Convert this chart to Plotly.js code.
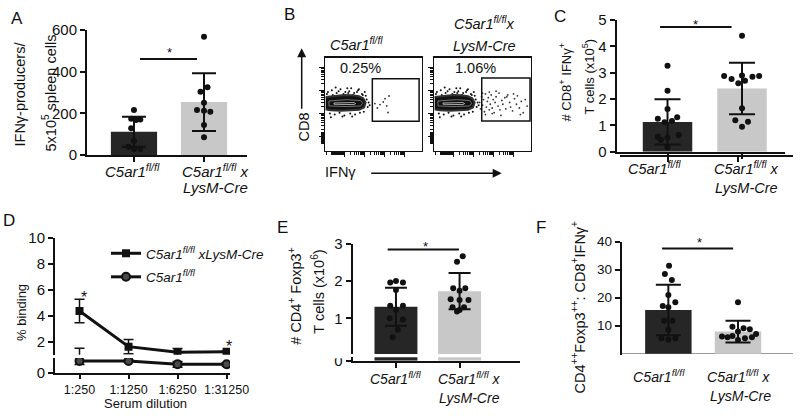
<!DOCTYPE html>
<html><head><meta charset="utf-8">
<script src="https://cdn.plot.ly/plotly-3.0.1.min.js"></script>
<style>html,body{margin:0;padding:0;background:#fff}#chart{width:800px;height:420px}</style>
</head><body><div id="chart"></div>
<script>
// ================= DATA =================
const groupLabels = ['<i>C5ar1<sup>fl/fl</sup></i>', '<i>C5ar1<sup>fl/fl</sup> x</i>', '<i>LysM-Cre</i>'];
// Panel A: IFNg producers / 5x10^5 spleen cells
const aMean = [112, 254];
const aSD = [72, 139];
const aCtrl = [216, 174, 168, 171, 128, 69, 40, 29, 29];
const aCtrlJit = [0, -0.04, 0.03, 0.09, -0.04, 0, -0.08, 0, 0.09];
const aKO = [568, 304, 325, 251, 216, 213, 208, 144, 85];
const aKOJit = [0, -0.05, 0.05, 0, -0.1, 0, 0.09, 0, 0];
const aSig = [0.086, 0.9, 461];
const aStarX = 0.51;
// Panel C: # CD8+ IFNg+ T cells (x10^5)
const cMean = [1.13, 2.40];
const cSD = [0.86, 0.98];
const cCtrl = [3.26, 2.31, 1.62, 1.25, 1.31, 1.12, 1.17, 0.57, 0.44, 0.53, 0.63, 0.17];
const cCtrlJit = [0, 0, 0, -0.13, 0.13, -0.04, 0.06, -0.13, -0.09, 0, 0.15, 0];
const cKO = [4.40, 2.87, 2.76, 2.89, 2.85, 2.87, 2.60, 2.69, 1.65, 1.19, 1.14, 0.95];
const cKOJit = [0, -0.24, -0.14, 0, 0.14, 0.23, -0.05, 0.04, 0, -0.09, 0.08, 0];
const cSig = [-0.1, 0.86, 4.73];
const cStarX = 0.38;
// Panel D: % binding vs serum dilution
const dCats = ['1:250', '1:1250', '1:6250', '1:31250'];
const dKO = [4.36, 1.62, 1.18, 1.23];
const dKOErr = [0.91, 0.55, 0.3, 0.05];
const dWT = [0.8, 0.8, 0.57, 0.57];
const dWTErrPlus = [0.7, 0.05, 0.2, 0.1];
const dWTErrMinus = [0.25, 0.05, 0.2, 0.1];
const dStars = [[0.1, 5.72], [3.04, 1.95]];
// Panel E: # CD4+ Foxp3+ T cells (x10^6)
const eMean = [1.31, 1.73];
const eSD = [0.51, 0.49];
const eCtrl = [1.96, 2.0, 1.96, 1.76, 1.34, 1.34, 1.22, 1.0, 0.97, 0.69, 0.49];
const eCtrlJit = [-0.09, 0, 0.11, 0, -0.09, 0.11, 0, -0.1, 0.11, 0.03, -0.05];
const eKO = [2.67, 2.52, 1.81, 1.74, 1.81, 1.51, 1.49, 1.49, 1.30, 1.30, 1.22, 1.18];
const eKOJit = [0.05, -0.04, -0.1, 0, 0.09, -0.14, 0, 0.14, -0.11, 0.07, 0, -0.04];
const eSig = [-0.13, 0.99, 2.85];
const eStarX = 0.46;
// Panel F: ratio CD4+Foxp3+ : CD8+IFNg+
const fMean = [15.6, 7.9];
const fSD = [9.0, 3.9];
const fCtrl = [31.4, 28.5, 26.3, 21.0, 17.0, 18.4, 16.6, 11.8, 11.8, 8.5, 5.5, 5.1, 5.5];
const fCtrlJit = [0.01, -0.05, 0.05, 0, -0.08, 0.1, 0, -0.06, 0.06, 0, -0.1, 0, 0.1];
const fKO = [18.4, 9.6, 9.1, 8.7, 7.9, 6.1, 5.9, 6.3, 5.5, 5.9, 4.9, 7.0];
const fKOJit = [0, -0.08, 0.08, 0.17, 0, -0.23, -0.15, -0.08, 0.1, 0.2, 0, 0.26];
const fSig = [-0.09, 0.93, 37.6];
const fStarX = 0.45;
// Panel B: flow cytometry (arbitrary display units 0-100)
const bPct = ['0.25%', '1.06%'];
const bCoreX = [0.7, 9.3, 19.6, 28.2, 35.1, 39.5, 41.9, 40.2, 35.1, 26.5, 16.2, 5.8, 0.7];
const bCoreY = [57.7, 58.8, 59.9, 59.5, 58.5, 56.3, 51.8, 46.5, 44.0, 43.7, 43.0, 43.7, 44.4];
const bRing1X = [4.1, 23, 36.8, 38.8, 36.8, 23, 4.1, 4.1];
const bRing1Y = [53.5, 54.9, 53.9, 51.1, 48.2, 47.5, 48.2, 53.5];
const bRing2X = [9.3, 29.9, 31.6, 29.9, 9.3, 9.3];
const bRing2Y = [51.4, 51.8, 50.7, 49.6, 50.0, 51.4];
const bFuzzX = [3, 7, 12, 16, 21, 25, 30, 34, 38, 42, 5, 10, 15, 20, 26, 31, 36, 40, 44, 2, 8, 14, 19, 24, 29, 33, 39, 43, 18, 27, 45, 46, 11, 23, 35, 6, 28, 41];
const bFuzzY = [63, 65, 62, 66, 63, 64, 62, 65, 61, 59, 40, 39, 41, 38, 40, 39, 41, 42, 47, 61, 60, 64, 61, 62, 60, 63, 60, 55, 37, 67, 52, 49, 68, 67, 66, 36, 37, 63];
const bGateCtrlX = [51.5, 56.7, 60.1, 61.9, 63.6, 66, 65, 54];
const bGateCtrlY = [50.7, 49.6, 52.4, 56, 48.2, 58.8, 41.2, 46];
const bGateKOX = [47,48,49,50,51,52,53,54,55,56,57,58,59,60,61,62,63,64,66,67,68,70,71,73,74,76,78,79,81,83,85,86,88,90,92,94,96,50,53,57,60,64,69,75,82,89];
const bGateKOY = [52,45,58,49,55,42,61,47,53,57,44,50,60,46,55,41,52,58,48,62,44,54,50,57,45,60,52,47,43,56,50,59,46,53,41,55,48,62,39,63,40,64,38,58,61,39];
const bGateCtrl = [48.8, 97, 31.9, 77.3];
const bGateKO = [49.2, 99, 32, 78];
const flowXDecades = [20.5, 41, 61.5, 82];
const flowYDecades = [15.5, 40, 64.5, 89];

// ================= LAYOUT HELPERS =================
const W = 800, H = 420;
const PX = p => p / W;
const PY = p => 1 - p / H;
const FONT = 'Liberation Sans, Arial, sans-serif';
const INK = '#111';
const DARK = '#262626', LIGHT = '#c8c8c8';

function axisBase(extra) {
  return Object.assign({
    showline: true, linecolor: INK, linewidth: 2,
    ticks: 'outside', ticklen: 5, tickwidth: 2, tickcolor: INK,
    showgrid: false, zeroline: false,
    tickfont: {family: FONT, size: 15, color: INK},
    fixedrange: true
  }, extra);
}
function logMinor(decades, w) {
  const out = [];
  for (let i = 0; i < decades.length - 1; i++)
    for (let k = 2; k <= 9; k++) out.push(decades[i] + Math.log10(k) * w);
  return out;
}
function block(a, b, step) { const o = []; for (let v = a; v <= b; v += step) o.push(v); return o; }

const traces = [];
const shapes = [];
const annotations = [];

function barPanel(xa, ya, mean, sd, ctrl, ctrlJit, ko, koJit, width, capw) {
  traces.push({type: 'bar', x: [0, 1], y: mean, xaxis: xa, yaxis: ya, width: width,
    marker: {color: [DARK, LIGHT], line: {width: 0}}, showlegend: false, hoverinfo: 'skip',
    error_y: {type: 'data', array: sd, visible: true, color: INK, thickness: 2, width: capw}});
  traces.push({type: 'scatter', mode: 'markers', x: ctrlJit.map(j => 0 + j), y: ctrl, xaxis: xa, yaxis: ya,
    marker: {size: 6, color: INK}, showlegend: false, hoverinfo: 'skip', cliponaxis: false});
  traces.push({type: 'scatter', mode: 'markers', x: koJit.map(j => 1 + j), y: ko, xaxis: xa, yaxis: ya,
    marker: {size: 6, color: INK}, showlegend: false, hoverinfo: 'skip', cliponaxis: false});
}
// significance bar + star placed a few pixels above it
function sigLine(xa, ya, sig, starX, lift) {
  shapes.push({type: 'line', xref: xa, yref: ya, x0: sig[0], x1: sig[1], y0: sig[2], y1: sig[2],
    line: {color: INK, width: 2}});
  annotations.push({xref: xa, yref: ya, x: starX, y: sig[2], text: '*', showarrow: false,
    yanchor: 'middle', yshift: lift - 4, font: {family: FONT, size: 13, color: INK}});
}
function catLabels(xa, pyLine1, pyLine2, shifts, size) {
  annotations.push({xref: xa, yref: 'paper', x: 0, y: PY(pyLine1), text: groupLabels[0], showarrow: false,
    xshift: shifts[0], yanchor: 'middle', font: {family: FONT, size: size, color: INK}});
  annotations.push({xref: xa, yref: 'paper', x: 1, y: PY(pyLine1), text: groupLabels[1], showarrow: false,
    xshift: shifts[1], yanchor: 'middle', font: {family: FONT, size: size, color: INK}});
  annotations.push({xref: xa, yref: 'paper', x: 1, y: PY(pyLine2), text: groupLabels[2], showarrow: false,
    xshift: shifts[2], yanchor: 'middle', font: {family: FONT, size: size, color: INK}});
}
function vText(px, py, text, size) {
  annotations.push({xref: 'paper', yref: 'paper', x: PX(px), y: PY(py), text: text, textangle: -90,
    showarrow: false, xanchor: 'center', yanchor: 'middle', font: {family: FONT, size: size, color: INK}});
}
function hText(px, py, text, size) {
  annotations.push({xref: 'paper', yref: 'paper', x: PX(px), y: PY(py), text: text,
    showarrow: false, xanchor: 'center', yanchor: 'middle',
    font: {family: FONT, size: size, color: INK}});
}

// ---------- Panel A ----------
barPanel('x', 'y', aMean, aSD, aCtrl, aCtrlJit, aKO, aKOJit, 0.66, 12);
sigLine('x', 'y', aSig, aStarX, 10);
catLabels('x', 170.7, 188, [-1, 11, 11], 15);
vText(20, 94.5, 'IFNγ-producers/', 14.5);
vText(49.5, 93, '5x10<sup>5</sup> spleen cells', 14.5);

// ---------- Panel C ----------
barPanel('x4', 'y4', cMean, cSD, cCtrl, cCtrlJit, cKO, cKOJit, 0.664, 13);
sigLine('x4', 'y4', cSig, cStarX, 6.5);
catLabels('x4', 168.3, 187.5, [-13, 4, 4], 14.5);
vText(566, 82.5, '# CD8<sup>+</sup> IFNγ<sup>+</sup>', 13);
vText(588, 76.5, 'T cells (x10<sup>5</sup>)', 13);

// ---------- Panel E ----------
barPanel('x6', 'y7', eMean, eSD, eCtrl, eCtrlJit, eKO, eKOJit, 0.675, 11);
traces.push({type: 'bar', x: [0, 1], y: eMean, xaxis: 'x6', yaxis: 'y8', width: 0.675,
  marker: {color: [DARK, LIGHT]}, showlegend: false, hoverinfo: 'skip'});
sigLine('x6', 'y7', eSig, eStarX, 7);
catLabels('x6', 378.3, 397.5, [0, 10, 10], 14);
vText(295, 296.7, '# CD4<sup>+</sup> Foxp3<sup>+</sup>', 14.5);
vText(318, 291.7, 'T cells (x10<sup>6</sup>)', 14.5);

// ---------- Panel F ----------
barPanel('x7', 'y9', fMean, fSD, fCtrl, fCtrlJit, fKO, fKOJit, 0.667, 12.5);
sigLine('x7', 'y9', fSig, fStarX, 10);
catLabels('x7', 375.8, 395.8, [-9, 1, 3], 14.2);
vText(578, 307.5, 'CD4<sup>+</sup><sup>+</sup>Foxp3<sup>+</sup><sup>+</sup>: CD8<sup>+</sup>IFNγ<sup>+</sup>', 14.5);

// ---------- Panel D ----------
traces.push({type: 'scatter', mode: 'lines+markers', x: dCats, y: dKO, xaxis: 'x5', yaxis: 'y5',
  name: '<i>C5ar1<sup>fl/fl</sup> xLysM-Cre</i>', legendgroup: 'ko', showlegend: true,
  line: {color: INK, width: 3}, marker: {symbol: 'square', size: 8, color: INK},
  error_y: {type: 'data', array: dKOErr, color: INK, thickness: 1.5, width: 5}, hoverinfo: 'skip'});
traces.push({type: 'scatter', mode: 'lines+markers', x: dCats, y: dWT, xaxis: 'x5', yaxis: 'y6',
  name: '<i>C5ar1<sup>fl/fl</sup></i>', legendgroup: 'wt', showlegend: true,
  line: {color: INK, width: 3}, marker: {symbol: 'circle', size: 8, color: '#4a4a4a', line: {color: INK, width: 2}},
  error_y: {type: 'data', array: dWTErrPlus, arrayminus: dWTErrMinus, color: INK, thickness: 1.5, width: 5}, hoverinfo: 'skip'});
traces.push({type: 'scatter', mode: 'markers', x: dCats, y: dWT, xaxis: 'x5', yaxis: 'y5', showlegend: false,
  marker: {size: 0.1, color: INK},
  error_y: {type: 'data', array: dWTErrPlus, arrayminus: dWTErrMinus, color: INK, thickness: 1.5, width: 5}, hoverinfo: 'skip'});
dStars.forEach(s => annotations.push({xref: 'x5', yref: 'y5', x: s[0], y: s[1], text: '*', showarrow: false,
  yanchor: 'middle', yshift: -4, font: {family: FONT, size: 16, color: INK}}));
vText(21, 313, '% binding', 13);
hText(145, 403, 'Serum dilution', 13);

// ---------- Panel B ----------
[['x2', 'y2', bGateCtrlX, bGateCtrlY, bGateCtrl], ['x3', 'y3', bGateKOX, bGateKOY, bGateKO]].forEach(p => {
  const [xa, ya, gx, gy, gate] = p;
  traces.push({type: 'scatter', mode: 'markers', x: bFuzzX, y: bFuzzY, xaxis: xa, yaxis: ya, showlegend: false,
    marker: {size: 2, color: INK}, hoverinfo: 'skip'});
  traces.push({type: 'scatter', mode: 'lines', x: bCoreX, y: bCoreY, xaxis: xa, yaxis: ya, fill: 'toself',
    fillcolor: INK, line: {color: '#333', width: 2}, showlegend: false, hoverinfo: 'skip'});
  traces.push({type: 'scatter', mode: 'lines', x: bRing1X, y: bRing1Y, xaxis: xa, yaxis: ya,
    line: {color: '#8a8a8a', width: 0.8}, showlegend: false, hoverinfo: 'skip'});
  traces.push({type: 'scatter', mode: 'lines', x: bRing2X, y: bRing2Y, xaxis: xa, yaxis: ya,
    line: {color: '#cfcfcf', width: 0.8}, showlegend: false, hoverinfo: 'skip'});
  traces.push({type: 'scatter', mode: 'markers', x: gx, y: gy, xaxis: xa, yaxis: ya, showlegend: false,
    marker: {size: 1.8, color: '#333'}, hoverinfo: 'skip'});
  shapes.push({type: 'rect', xref: xa, yref: ya, x0: gate[0], x1: gate[1], y0: gate[2], y1: gate[3],
    line: {color: INK, width: 1.5}});
});
hText(360.7, 68.3, bPct[0], 14.5);
hText(475.7, 68.3, bPct[1], 14.5);
hText(356, 44, '<i>C5ar1<sup>fl/fl</sup></i>', 14.5);
hText(484, 22.5, '<i>C5ar1<sup>fl/fl</sup>x</i>', 14.5);
hText(484, 45.5, '<i>LysM-Cre</i>', 14.5);
vText(303, 127.5, 'CD8', 14.5);
hText(340, 172, 'IFNγ', 14.5);
annotations.push({xref: 'paper', yref: 'paper', x: PX(301.7), y: PY(48.3), ax: 0, ay: 62, text: '',
  showarrow: true, arrowhead: 2, arrowsize: 1.2, arrowwidth: 1.5, arrowcolor: INK, standoff: 0, startstandoff: 0});
annotations.push({xref: 'paper', yref: 'paper', x: PX(501.7), y: PY(173.3), ax: -132, ay: 0, text: '',
  showarrow: true, arrowhead: 2, arrowsize: 1.2, arrowwidth: 1.5, arrowcolor: INK, standoff: 0, startstandoff: 0});

// panel letters
[['A', 17, 19], ['B', 289, 15], ['C', 560, 17], ['D', 9, 220], ['E', 282, 227], ['F', 541, 227]].forEach(l =>
  annotations.push({xref: 'paper', yref: 'paper', x: PX(l[1]), y: PY(l[2]), text: l[0], showarrow: false,
    xanchor: 'center', yanchor: 'middle', font: {family: FONT, size: 17, color: INK}}));

// partial "0" masks for broken axes (E, F)
shapes.push({type: 'rect', xref: 'paper', yref: 'paper', x0: PX(334), x1: PX(350.5), y0: PY(358.3), y1: PY(352),
  fillcolor: '#fff', line: {width: 0}, layer: 'above'});
shapes.push({type: 'rect', xref: 'paper', yref: 'paper', x0: PX(598), x1: PX(619.5), y0: PY(357.8), y1: PY(351.5),
  fillcolor: '#fff', line: {width: 0}, layer: 'above'});

const flowX = {
  showline: true, mirror: true, linecolor: INK, linewidth: 1.3, showgrid: false, zeroline: false,
  ticks: 'outside', ticklen: 5, tickwidth: 1, tickcolor: INK, tickvals: flowXDecades, showticklabels: false,
  minor: {ticks: 'outside', ticklen: 3, tickwidth: 1, tickcolor: INK, tickmode: 'array',
    tickvals: [2].concat(block(7, 19.5, 0.7), logMinor(flowXDecades, 20.5))},
  range: [0, 100], fixedrange: true
};
const flowY = {
  showline: true, mirror: true, linecolor: INK, linewidth: 1.3, showgrid: false, zeroline: false,
  ticks: 'outside', ticklen: 5, tickwidth: 1, tickcolor: INK, tickvals: flowYDecades, showticklabels: false,
  minor: {ticks: 'outside', ticklen: 3, tickwidth: 1, tickcolor: INK, tickmode: 'array',
    tickvals: block(8, 20.5, 0.7).concat(logMinor(flowYDecades, 24.5))},
  range: [0, 100], fixedrange: true
};

const layout = {
  width: W, height: H, margin: {l: 0, r: 0, t: 0, b: 0},
  paper_bgcolor: '#fff', plot_bgcolor: 'rgba(0,0,0,0)',
  font: {family: FONT, color: INK},
  showlegend: true,
  legend: {x: PX(106), y: PY(238), xanchor: 'left', yanchor: 'top', bgcolor: 'rgba(0,0,0,0)',
    font: {family: FONT, size: 13.5, color: INK}, itemwidth: 30, tracegroupgap: 3, traceorder: 'grouped'},
  // A
  xaxis: axisBase({domain: [PX(87), PX(247)], range: [-0.671, 1.614], tickvals: [0, 1], showticklabels: false, anchor: 'y'}),
  yaxis: axisBase({domain: [PY(155), PY(30)], range: [0, 600], tickvals: [0, 200, 400, 600], anchor: 'x'}),
  // B
  xaxis2: Object.assign({domain: [PX(325), PX(422)], anchor: 'y2'}, flowX),
  yaxis2: Object.assign({domain: [PY(151), PY(57.5)], anchor: 'x2'}, flowY),
  xaxis3: Object.assign({domain: [PX(434), PX(531)], anchor: 'y3'}, flowX),
  yaxis3: Object.assign({domain: [PY(151), PY(57.5)], anchor: 'x3'}, flowY),
  // C
  xaxis4: axisBase({domain: [PX(616.7), PX(785)], range: [-0.682, 1.577], tickvals: [0, 1], showticklabels: false, anchor: 'y4'}),
  yaxis4: axisBase({domain: [PY(151.7), PY(20)], range: [0, 5], tickvals: [0, 1, 2, 3, 4, 5], anchor: 'x4'}),
  // D
  xaxis5: axisBase({domain: [PX(55), PX(230)], type: 'category', range: [-0.5, 3.07], anchor: 'y6', ticklen: 4,
    tickfont: {family: FONT, size: 12.5, color: INK}}),
  yaxis5: axisBase({domain: [PY(354.7), PY(237.7)], range: [1.0, 10], tickvals: [2, 4, 6, 8, 10], anchor: 'x5'}),
  yaxis6: axisBase({domain: [PY(372.7), PY(358)], range: [0, 1], tickvals: [0], anchor: 'x5'}),
  // E
  xaxis6: axisBase({domain: [PX(352.7), PX(520)], range: [-0.68, 1.95], tickvals: [0, 1], showticklabels: false, anchor: 'y8'}),
  yaxis7: axisBase({domain: [PY(354), PY(243.9)], range: [0.04, 3], tickvals: [1, 2, 3], anchor: 'x6'}),
  yaxis8: axisBase({domain: [PY(360.7), PY(357.3)], range: [0, 0.1], tickvals: [0], anchor: 'x6'}),
  // F
  xaxis7: axisBase({domain: [PX(621.7), PX(793)], range: [-0.67, 1.79], tickvals: [0, 1], showticklabels: false, anchor: 'y10'}),
  yaxis9: axisBase({domain: [PY(354.5), PY(241.7)], range: [-0.3, 40], tickvals: [10, 20, 30, 40], anchor: 'x7',
    zeroline: true, zerolinecolor: '#9a9a9a', zerolinewidth: 1, tickfont: {family: FONT, size: 13.5, color: INK}}),
  yaxis10: axisBase({domain: [PY(360), PY(357)], range: [0, 1], tickvals: [0], anchor: 'x7',
    tickfont: {family: FONT, size: 13.5, color: INK}}),
  shapes: shapes,
  annotations: annotations
};

// only the two D lines appear in the legend
traces.forEach(t => { if (t.showlegend === undefined) t.showlegend = false; });

Plotly.newPlot('chart', traces, layout, {staticPlot: true, displayModeBar: false});
</script>
</body></html>
